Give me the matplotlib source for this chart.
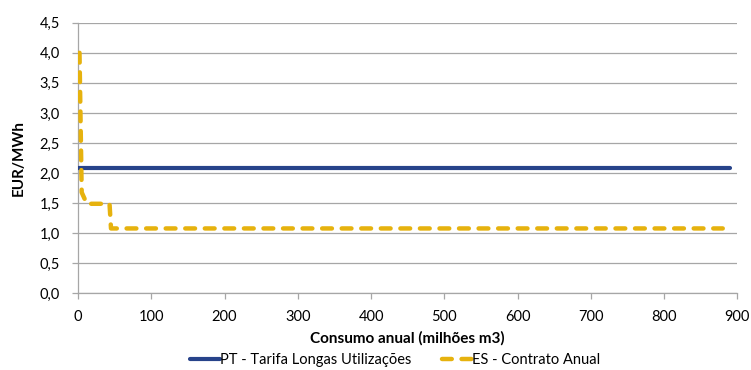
import matplotlib
matplotlib.use("Agg")
import matplotlib.pyplot as plt
from matplotlib.ticker import FuncFormatter, MultipleLocator

plt.rcParams['font.family'] = ['Lato', 'DejaVu Sans']

# Data
pt_x = [0, 890]
pt_y = [2.08, 2.08]
es_x = [2, 5, 12, 43, 45, 880]
es_y = [4.0, 1.68, 1.49, 1.49, 1.08, 1.08]
pt_label = "PT - Tarifa Longas Utilizações"
es_label = "ES - Contrato Anual"
xlabel = "Consumo anual (milhões m3)"
ylabel = "EUR/MWh"

blue = "#27438A"
gold = "#E6B20E"
grid = "#A6A6A6"

fig = plt.figure(figsize=(7.51, 3.70), dpi=100)
ax = fig.add_axes([0.1039, 0.207, 0.878, 0.7316])

ax.plot(pt_x, pt_y, color=blue, lw=3.0, solid_capstyle='round', label=pt_label, zorder=3)
ax.plot(es_x, es_y, color=gold, lw=3.2, dashes=(2.2, 2.2), dash_capstyle='round',
        solid_joinstyle='round', label=es_label, zorder=3)

ax.set_xlim(0, 900)
ax.set_ylim(0, 4.5)
ax.xaxis.set_major_locator(MultipleLocator(100))
ax.yaxis.set_major_locator(MultipleLocator(0.5))
ax.yaxis.set_major_formatter(FuncFormatter(lambda v, p: f"{v:.1f}".replace('.', ',')))

ax.grid(axis='y', color=grid, lw=0.9)
ax.set_axisbelow(True)
for s in ['top', 'right']:
    ax.spines[s].set_visible(False)
for s in ['left', 'bottom']:
    ax.spines[s].set_color(grid)
    ax.spines[s].set_linewidth(0.9)
ax.tick_params(axis='both', colors=grid, labelcolor='black', labelsize=10.5, length=4, width=0.9)
ax.tick_params(axis='x', pad=8)
ax.tick_params(axis='y', pad=9)

ax.set_xlabel(xlabel, fontsize=11, fontweight='bold', labelpad=5)
ax.set_ylabel(ylabel, fontsize=11, fontweight='bold', labelpad=10)

fig.legend(loc='center', bbox_to_anchor=(0.526, 0.028), ncol=2, frameon=False,
           fontsize=10.5, handlelength=2.1, handletextpad=0.0, columnspacing=2.05,
           borderpad=0.0)

fig.savefig("out.png", dpi=100)
